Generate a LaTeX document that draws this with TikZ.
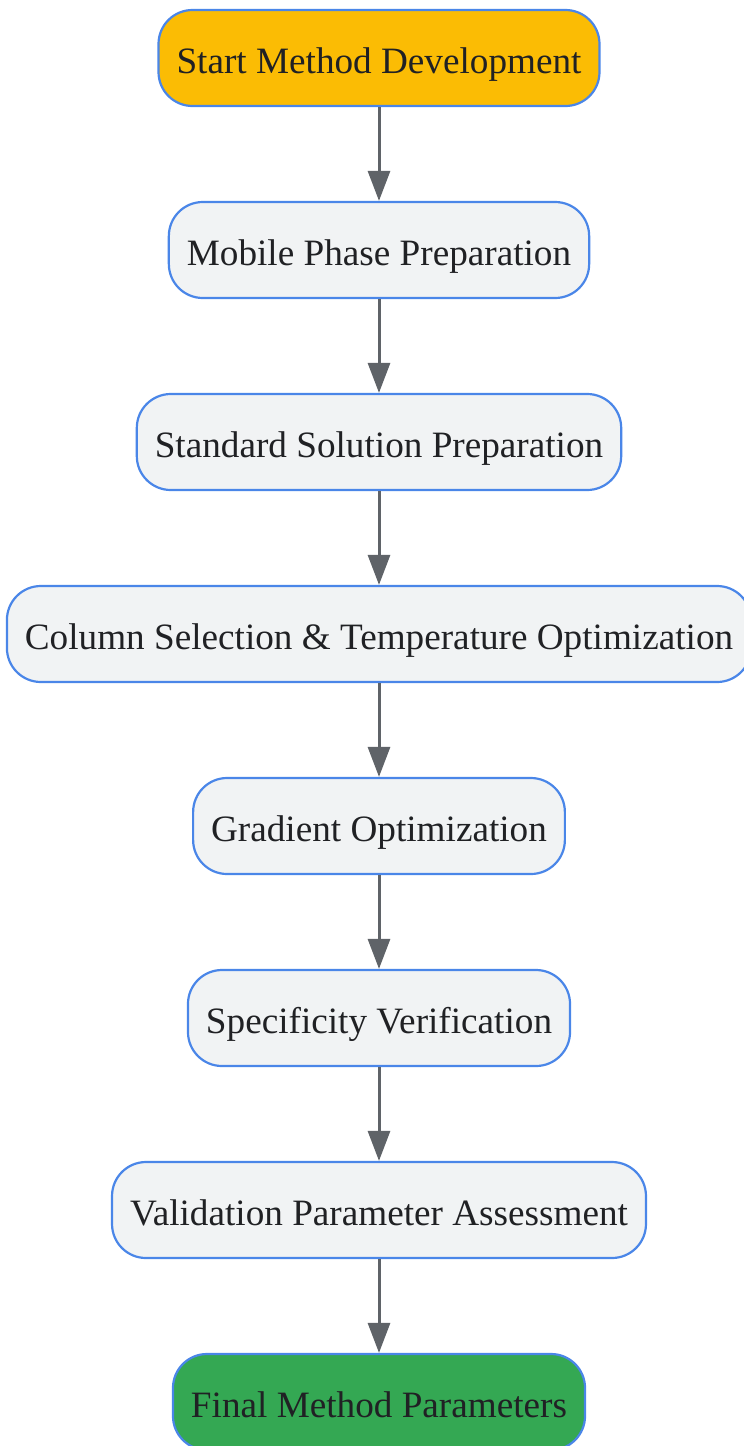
\documentclass[tikz,border=0pt]{standalone}
\usepackage{fontspec}
\setmainfont{Liberation Serif}
\usetikzlibrary{arrows.meta}
\definecolor{edgeblue}{HTML}{4A86E8}
\definecolor{boxgrey}{HTML}{F1F3F4}
\definecolor{startorange}{HTML}{FBBC04}
\definecolor{endgreen}{HTML}{34A853}
\definecolor{arrowgrey}{HTML}{5F6368}
\definecolor{txtdark}{HTML}{202124}
\begin{document}
\begin{tikzpicture}
	[	box/.style={rectangle,rounded corners=17pt,draw=edgeblue,line width=1.1pt,fill=boxgrey,minimum height=48pt,inner xsep=9pt,text height=18pt,text depth=3pt,font=\fontsize{18.6}{22}\selectfont,text=txtdark},
	flow/.style={-{Triangle[width=11pt,length=15pt]},line width=1.5pt,draw=arrowgrey}
	]
	\useasboundingbox (0,0) rectangle (372pt,-723pt);
	\node[box,fill=startorange] (start) at (189.5pt,-29pt){Start Method Development};
	\node[box] (mobile) at (189.5pt,-125pt){Mobile Phase Preparation};
	\node[box] (standard) at (189.5pt,-221pt){Standard Solution Preparation};
	\node[box] (column) at (189.5pt,-317pt){Column Selection \& Temperature Optimization};
	\node[box] (gradient) at (189.5pt,-413pt){Gradient Optimization};
	\node[box] (specific) at (189.5pt,-509pt){Specificity Verification};
	\node[box] (validate) at (189.5pt,-605pt){Validation Parameter Assessment};
	\node[box,fill=endgreen] (final) at (189.5pt,-701pt){Final Method Parameters};

	\draw[flow] (start) -- (mobile);
	\draw[flow] (mobile) -- (standard);
	\draw[flow] (standard) -- (column);
	\draw[flow] (column) -- (gradient);
	\draw[flow] (gradient) -- (specific);
	\draw[flow] (specific) -- (validate);
	\draw[flow] (validate) -- (final);
\end{tikzpicture}
\end{document}
